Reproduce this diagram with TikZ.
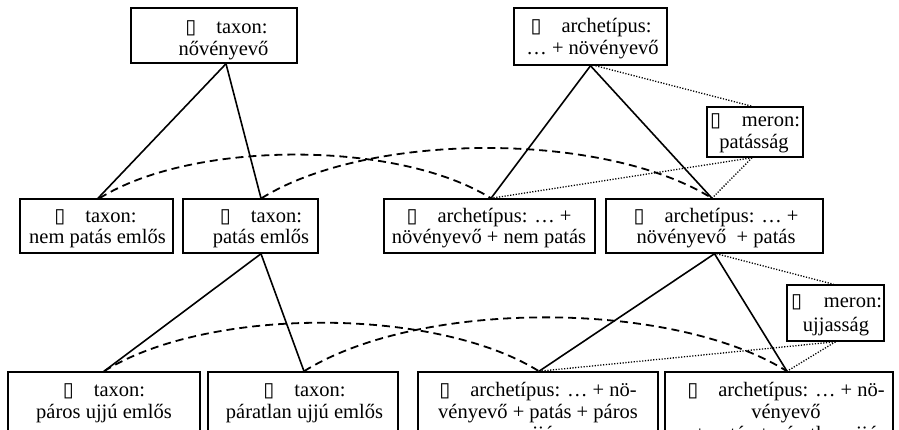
\documentclass[tikz,border=0pt]{standalone}
\usepackage{fontspec}
\setmainfont{Liberation Serif}
\newfontfamily\dejavu{DejaVu Sans}
\newcommand\ic{{\dejavu\fontsize{20}{20}\selectfont ▯}}
\newcommand\icgap{\ic\hspace{20pt}}
\begin{document}
\begin{tikzpicture}[x=1pt,y=-1pt,
  box/.style={draw, line width=1.5pt, inner sep=0pt, rectangle},
  txt/.style={anchor=base, inner sep=0pt, font=\fontsize{20.5}{22}\selectfont},
  solidline/.style={line width=1.6pt},
  dashline/.style={line width=1.8pt, dash pattern=on 8pt off 5pt},
  dotline/.style={line width=1.3pt, dash pattern=on 1.2pt off 1.6pt}]
\useasboundingbox (0,0) rectangle (899,429);
\fill[white] (0,0) rectangle (899,429);
\clip (0,0) rectangle (899,429);

% boxes
\node[box, minimum width=166pt, minimum height=55pt] (A) at (214,35.5) {};
\node[box, minimum width=153pt, minimum height=57pt] (B) at (590.5,36.5) {};
\node[box, minimum width=96pt, minimum height=50pt] (M1) at (755,132) {};
\node[box, minimum width=153pt, minimum height=54pt] (C1) at (96.5,226) {};
\node[box, minimum width=135pt, minimum height=54pt] (C2) at (250.5,226) {};
\node[box, minimum width=211pt, minimum height=54pt] (C3) at (489.5,226) {};
\node[box, minimum width=217pt, minimum height=54pt] (C4) at (714.5,226) {};
\node[box, minimum width=97pt, minimum height=56pt] (M2) at (835.5,313) {};
\node[box, minimum width=192pt, minimum height=80pt] (D1) at (104,412) {};
\node[box, minimum width=190pt, minimum height=80pt] (D2) at (303,412) {};
\node[box, minimum width=240pt, minimum height=80pt] (D3) at (538,412) {};
\node[box, minimum width=228pt, minimum height=80pt] (D4) at (779,412) {};

% texts
\node[txt] (A1) at (226.5,33) {\icgap taxon:};
\node[txt] (A2) at (223.5,55) {nővényevő};
\node[txt] (B1) at (591,32) {\icgap archetípus:};
\node[txt] (B2) at (592.5,54) {… + növényevő};
\node[txt] (M1a) at (755,126) {\makebox[90pt][s]{\ic\hfill meron:}};
\node[txt] (M1b) at (754,148) {patásság};
\node[txt] (C1a) at (95.5,222) {\icgap taxon:};
\node[txt] (C1b) at (97.5,243) {nem patás emlős};
\node[txt] (C2a) at (261,222) {\icgap taxon:};
\node[txt] (C2b) at (261,243) {patás emlős};
\node[txt] (C3a) at (489,222) {\icgap archetípus: … +};
\node[txt] (C3b) at (489,243) {növényevő + nem patás};
\node[txt] (C4a) at (716,222) {\icgap archetípus: … +};
\node[txt] (C4b) at (716,243) {növényevő \ + patás};
\node[txt] (M2a) at (836.5,307) {\makebox[91pt][s]{\ic\hfill meron:}};
\node[txt] (M2b) at (836,331) {ujjasság};
\node[txt] (D1a) at (104,396) {\icgap taxon:};
\node[txt] (D1b) at (104,418) {páros ujjú emlős};
\node[txt] (D2a) at (304.5,396) {\icgap taxon:};
\node[txt] (D2b) at (304.5,418) {páratlan ujjú emlős};
\node[txt] (D3a) at (538,396) {\icgap archetípus: … + nö-};
\node[txt] (D3b) at (538,418) {vényevő + patás + páros};
\node[txt] (D3c) at (538,440) {ujjú};
\node[txt] (D4a) at (786,396) {\icgap archetípus: … + nö-};
\node[txt] (D4b) at (786,418) {vényevő};
\node[txt] (D4c) at (786,440) {+ patás + páratlan ujjú};

% solid connectors
\draw[solidline] ([xshift=12pt]A.south) -- ([xshift=1.5pt]C1.north);
\draw[solidline] ([xshift=12pt]A.south) -- ([xshift=10.5pt]C2.north);
\draw[solidline] (B.south) -- ([xshift=1.5pt]C3.north);
\draw[solidline] (B.south) -- ([xshift=-2.5pt]C4.north);
\draw[solidline] ([xshift=10.5pt]C2.south) -- (D1.north);
\draw[solidline] ([xshift=10.5pt]C2.south) -- ([xshift=1pt]D2.north);
\draw[solidline] (C4.south) -- ([xshift=1pt]D3.north);
\draw[solidline] (C4.south) -- ([xshift=8pt]D4.north);

% dotted connectors
\draw[dotline] ([xshift=5pt]B.south) -- ([xshift=-3pt]M1.north);
\draw[dotline] ([xshift=-3pt]M1.south) -- ([xshift=1.5pt]C3.north);
\draw[dotline] ([xshift=-3pt]M1.south) -- ([xshift=-2.5pt]C4.north);
\draw[dotline] ([xshift=2pt]C4.south) -- ([xshift=-2pt]M2.north);
\draw[dotline] (M2.south) -- ([xshift=1pt]D3.north);
\draw[dotline] (M2.south) -- ([xshift=8pt]D4.north);

% dashed arcs
\draw[dashline] ([xshift=3pt]C1.north) to[bend left=32, looseness=0.72] ([xshift=1.5pt]C3.north);
\draw[dashline] ([xshift=11pt]C2.north) to[bend left=32, looseness=0.72] ([xshift=-2.5pt]C4.north);
\draw[dashline] (D1.north) to[bend left=32, looseness=0.72] ([xshift=1pt]D3.north);
\draw[dashline] ([xshift=1pt]D2.north) to[bend left=32, looseness=0.72] ([xshift=8pt]D4.north);
\end{tikzpicture}
\end{document}
